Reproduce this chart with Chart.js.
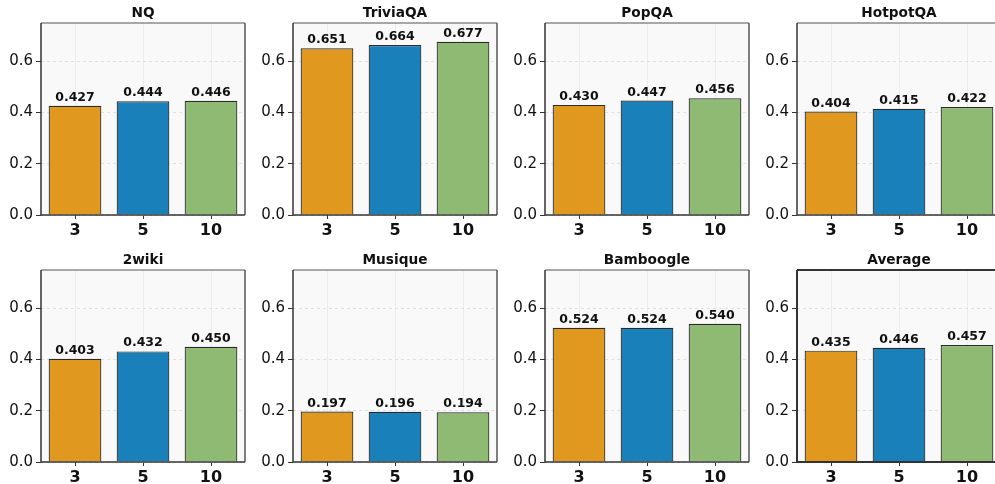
<!DOCTYPE html>
<html>
<head>
<meta charset="utf-8">
<script src="https://cdn.jsdelivr.net/npm/chart.js@4/dist/chart.umd.min.js"></script>
<style>
  body { margin: 0; background: #fff; width: 995px; height: 484px; overflow: hidden; position: relative; }
  .cell { position: absolute; width: 252px; height: 242px; }
</style>
</head>
<body>
<script>
// top-k values per dataset
const categories = ['3', '5', '10'];
const titles = ['NQ', 'TriviaQA', 'PopQA', 'HotpotQA', '2wiki', 'Musique', 'Bamboogle', 'Average'];
const nq        = [0.427, 0.444, 0.446];
const triviaqa  = [0.651, 0.664, 0.677];
const popqa     = [0.430, 0.447, 0.456];
const hotpotqa  = [0.404, 0.415, 0.422];
const twowiki   = [0.403, 0.432, 0.450];
const musique   = [0.197, 0.196, 0.194];
const bamboogle = [0.524, 0.524, 0.540];
const average   = [0.435, 0.446, 0.457];
const allValues = [nq, triviaqa, popqa, hotpotqa, twowiki, musique, bamboogle, average];
const yTicks = [0, 0.2, 0.4, 0.6];
const barColors = ['rgb(224,153,30)', 'rgb(26,128,185)', 'rgb(143,186,116)'];

const bgPlugin = {
  id: 'bg',
  beforeDraw(chart) {
    const a = chart.chartArea, ctx = chart.ctx;
    ctx.save();
    ctx.fillStyle = '#f9f9f9';
    ctx.fillRect(a.left, a.top, a.right - a.left, a.bottom - a.top);
    ctx.restore();
  }
};

const framePlugin = {
  id: 'frame',
  afterDatasetsDraw(chart, args, opts) {
    const a = chart.chartArea, ctx = chart.ctx;
    const strong = opts.strong;
    ctx.save();
    ctx.lineWidth = strong ? 2 : 1.5;
    const line = (x1, y1, x2, y2, c) => {
      ctx.strokeStyle = c;
      ctx.beginPath(); ctx.moveTo(x1, y1); ctx.lineTo(x2, y2); ctx.stroke();
    };
    line(a.left, a.top, a.right, a.top, strong ? '#333' : '#8a8a8a');
    line(a.right, a.top, a.right, a.bottom, strong ? '#333' : '#555');
    line(a.left, a.top, a.left, a.bottom, '#333');
    line(a.left, a.bottom, a.right, a.bottom, '#333');
    ctx.restore();
  }
};

const labelPlugin = {
  id: 'valueLabels',
  afterDatasetsDraw(chart) {
    const ctx = chart.ctx;
    const ds = chart.data.datasets[0];
    ctx.save();
    ctx.font = 'bold 12.5px "DejaVu Sans"';
    ctx.fillStyle = '#111';
    ctx.textAlign = 'center';
    ctx.textBaseline = 'alphabetic';
    chart.getDatasetMeta(0).data.forEach((bar, i) => {
      ctx.fillText(ds.data[i].toFixed(3), bar.x, bar.y - 5);
    });
    ctx.restore();
  }
};

const titlePlugin = {
  id: 'panelTitle',
  afterDraw(chart, args, opts) {
    const a = chart.chartArea, ctx = chart.ctx;
    ctx.save();
    ctx.font = 'bold 13.7px "DejaVu Sans"';
    ctx.fillStyle = '#111';
    ctx.textAlign = 'center';
    ctx.textBaseline = 'alphabetic';
    ctx.fillText(opts.text, (a.left + a.right) / 2, a.top - 6);
    ctx.restore();
  }
};

allValues.forEach((vals, i) => {
  const col = i % 4, row = Math.floor(i / 4);
  const div = document.createElement('div');
  div.className = 'cell';
  div.style.left = (col * 252) + 'px';
  div.style.top = (row * 247) + 'px';
  const canvas = document.createElement('canvas');
  canvas.width = 252; canvas.height = 242;
  div.appendChild(canvas);
  document.body.appendChild(div);

  new Chart(canvas, {
    type: 'bar',
    data: {
      labels: categories,
      datasets: [{
        data: vals,
        backgroundColor: barColors,
        borderColor: '#2a2a2a',
        borderWidth: 1.2,
        barPercentage: 0.775,
        categoryPercentage: 1
      }]
    },
    options: {
      responsive: false,
      animation: false,
      devicePixelRatio: 1,
      layout: { padding: { top: 23, right: 7, left: 0, bottom: 0 } },
      plugins: {
        legend: { display: false },
        tooltip: { enabled: false },
        frame: { strong: i === 7 },
        panelTitle: { text: titles[i] }
      },
      scales: {
        x: {
          grid: { offset: false, color: '#ececec', tickColor: '#333', tickLength: 4 },
          border: { display: false },
          ticks: { color: '#111', padding: 2, font: { family: 'DejaVu Sans', size: 16, weight: 'bold' } },
          afterFit: s => { s.height = 27; }
        },
        y: {
          min: 0,
          max: 0.75,
          afterBuildTicks: s => { s.ticks = yTicks.map(v => ({ value: v })); },
          grid: { color: '#e0e0e0', tickColor: '#333', tickLength: 5, tickBorderDash: [] },
          border: { display: false, dash: [3, 3] },
          ticks: { color: '#111', padding: 3, font: { family: 'DejaVu Sans', size: 15 }, callback: v => v.toFixed(1) },
          afterFit: s => { s.width = 41; }
        }
      }
    },
    plugins: [bgPlugin, framePlugin, labelPlugin, titlePlugin]
  });
});
</script>
</body>
</html>
